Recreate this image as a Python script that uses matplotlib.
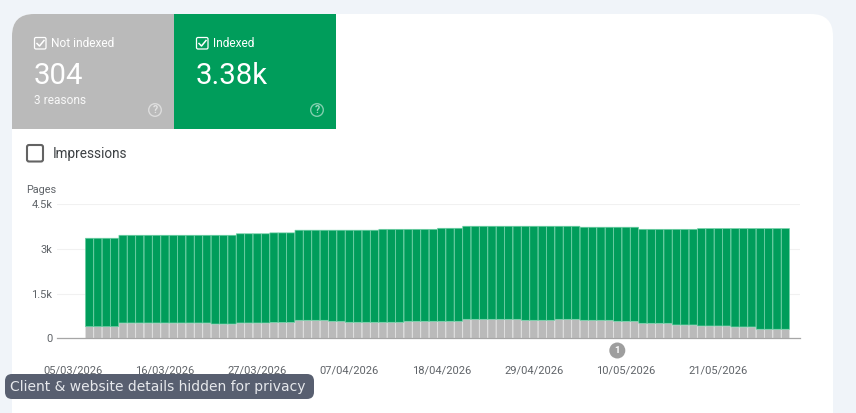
import matplotlib
matplotlib.use("Agg")
import matplotlib.pyplot as plt
import pandas as pd
from matplotlib.patches import FancyBboxPatch, Rectangle, Circle

W, H = 856, 413
plt.rcParams['font.family'] = ['Roboto', 'DejaVu Sans']

# Daily page counts, 07/03/2026 onwards
not_indexed = [390] * 4 + [515] * 11 + [480] * 3 + [515] * 4 + [535] * 3 + [605] * 4 + [571] * 2 \
    + [538] * 7 + [571] * 7 + [638] * 7 + [605] * 4 + [638] * 3 + [605] * 4 + [571] * 3 \
    + [504] * 4 + [448] * 3 + [414] * 4 + [381] * 3 + [304] * 4
total_pages = [3360] * 4 + [3460] * 14 + [3510] * 4 + [3540] * 3 + [3630] * 10 + [3660] * 7 \
    + [3695] * 3 + [3763] * 14 + [3730] * 7 + [3660] * 7 + [3684] * 11
indexed = [t - n for t, n in zip(total_pages, not_indexed)]
days = pd.date_range("2026-03-07", periods=len(total_pages))

date_ticks = pd.to_datetime(["2026-03-05", "2026-03-16", "2026-03-27", "2026-04-07",
                             "2026-04-18", "2026-04-29", "2026-05-10", "2026-05-21"])
date_labels = [d.strftime("%d/%m/%Y") for d in date_ticks]
y_ticks = [0, 1500, 3000, 4500]
y_labels = ["0", "1.5k", "3k", "4.5k"]

PAGE = "#f0f4f9"
GREY = "#bababa"
GREEN = "#009d5b"
TEXT = "#5f6368"

fig = plt.figure(figsize=(W / 100, H / 100), dpi=100, facecolor=PAGE)


def pixel_axes(z):
    a = fig.add_axes([0, 0, 1, 1], zorder=z)
    a.set_xlim(0, W)
    a.set_ylim(H, 0)
    a.axis("off")
    a.patch.set_alpha(0)
    return a


back = pixel_axes(0)
card = FancyBboxPatch((12 + 22, 14 + 22), 821 - 44, 500, boxstyle="round,pad=22,rounding_size=22",
                      fc="white", ec="none")
back.add_patch(card)

# Summary tiles, clipped to the rounded card corner
for x0, colour in [(12, GREY), (174, GREEN)]:
    tile = Rectangle((x0, 14), 162, 115, fc=colour, ec="none")
    back.add_patch(tile)
    tile.set_clip_path(card)

tiles = [(34, "Not indexed", "304", "3 reasons", 155), (196, "Indexed", "3.38k", None, 317)]
for x0, name, value, note, qx in tiles:
    back.add_patch(FancyBboxPatch((x0 + 0.5, 37.5), 11.5, 11.5, boxstyle="round,pad=0,rounding_size=1.5",
                                  fc="none", ec="white", lw=0.9))
    back.plot([x0 + 3, x0 + 5.5, x0 + 10], [43.5, 46, 40.5], color="white", lw=1.1)
    back.text(x0 + 17, 43.5, name, color="white", fontsize=8.6, va="center", ha="left")
    back.text(x0, 76, value, color="white", fontsize=21.2, va="center", ha="left")
    if note:
        back.text(x0, 100, note, color="white", fontsize=8.6, va="center", ha="left", alpha=0.9)
    back.add_patch(Circle((qx, 110), 6.3, fc="none", ec="white", lw=1.0, alpha=0.5))
    back.text(qx, 110.3, "?", color="white", alpha=0.6, fontsize=7.5, va="center", ha="center", weight="bold")

back.add_patch(FancyBboxPatch((27, 145), 16, 16.5, boxstyle="round,pad=0,rounding_size=2",
                              fc="none", ec="#636363", lw=1.5))
back.text(53.2, 154, "Impressions", color="#3c4043", fontsize=9.8, va="center", ha="left")
back.text(26, 190, "Pages", color=TEXT, fontsize=7.8, va="center", ha="left")

# Stacked daily columns with pale separators between days
X0, X1, Y_ZERO, Y_TOP = 57, 800, 338.3, 204.3
ax = fig.add_axes([X0 / W, 1 - Y_ZERO / H, (X1 - X0) / W, (Y_ZERO - Y_TOP) / H], zorder=1)
ax.patch.set_alpha(0)
grey_bars = ax.bar(days, not_indexed, width=0.97, color=GREY, edgecolor="#e4e4e4", linewidth=0.5, zorder=2)
green_bars = ax.bar(days, indexed, bottom=not_indexed, width=0.97, color=GREEN, edgecolor="#6fd0a6",
                    linewidth=0.5, zorder=2)
for patch in list(grey_bars) + list(green_bars):
    patch.set_snap(False)

px_per_day = 8.385
origin = date_ticks[0]
ax.set_xlim(origin + pd.Timedelta(days=(X0 - 72.7) / px_per_day),
            origin + pd.Timedelta(days=(X1 - 72.7) / px_per_day))
ax.set_ylim(0, 4500)
ax.set_xticks(date_ticks, date_labels)
ax.set_yticks(y_ticks, y_labels)
ax.tick_params(axis="x", length=0, pad=19.5, labelsize=8, labelcolor=TEXT)
ax.tick_params(axis="y", length=0, pad=3.4, labelsize=8, labelcolor=TEXT)
ax.grid(axis="y", color="#f1f1f1", lw=0.8, zorder=0)
ax.grid(axis="x", visible=False)
for side in ["top", "left", "right"]:
    ax.spines[side].set_visible(False)
ax.spines["bottom"].set_color("#a6a6a6")
ax.spines["bottom"].set_linewidth(0.9)
ax.spines["bottom"].set_zorder(3)

front = pixel_axes(2)
# Numbered annotation marker under the axis
front.add_patch(Circle((617.3, 350.5), 8, fc="#9e9e9e", ec="none"))
front.text(617.3, 350.5, "1", color="white", fontsize=6.8, weight="bold", va="center", ha="center")

# Privacy caption overlaid on the lower-left corner
front.add_patch(FancyBboxPatch((12, 381), 295, 11, boxstyle="round,pad=7,rounding_size=7",
                               fc="#585f70", ec="none"))
front.text(10, 387, "Client & website details hidden for privacy", family="DejaVu Sans",
           color="#e6e8ec", fontsize=10.04, va="center", ha="left")

fig.savefig("out.png", dpi=100, facecolor=PAGE)
